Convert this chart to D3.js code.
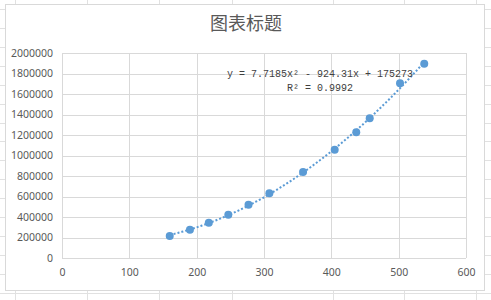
<!DOCTYPE html>
<html>
<head>
<meta charset="utf-8">
<script src="https://cdn.jsdelivr.net/npm/d3@7"></script>
<style>
  html, body { margin: 0; padding: 0; background: #fff; }
  svg { display: block; }
</style>
</head>
<body>
<script>

// data
const title = "图表标题"
const xValues = [160, 190, 218, 247, 277, 308, 358, 405, 437, 457, 502, 538]
const yValues = [215000, 276000, 344000, 422000, 520000, 631000, 839000, 1057000, 1226000, 1363000, 1704000, 1896000]
// trendline y = c0 + c1*x + c2*x^2, as printed on the chart
const trendCoef = [175273, -924.31, 7.7185]
const rSquared = 0.9992
const xTicks = [0, 100, 200, 300, 400, 500, 600]
const yTicks = [0, 200000, 400000, 600000, 800000, 1000000, 1200000, 1400000, 1600000, 1800000, 2000000]

// spreadsheet cells behind the chart
const sheetCols = [15, 87, 159, 232, 333, 404, 476]
const sheetRows = [9, 28, 47, 66, 85, 104, 123, 141, 160, 179, 198, 217, 236, 255, 274, 293]

const W = 491, H = 300
const textColor = "#595959"
const gridColor = "#d9d9d9"
const blue = "#5b9bd5"

const svg = d3.select("body").append("svg")
    .attr("width", W)
    .attr("height", H)

/**
    faint sheet grid
*/
let sheet = svg.append("g").attr("stroke", "#e1e1e1").attr("stroke-width", 1)
sheet.selectAll("line.c").data(sheetCols).join("line").attr("class", "c")
    .attr("x1", d => d + .5).attr("x2", d => d + .5)
    .attr("y1", 0).attr("y2", H)
sheet.selectAll("line.r").data(sheetRows).join("line").attr("class", "r")
    .attr("x1", 0).attr("x2", W)
    .attr("y1", d => d + .5).attr("y2", d => d + .5)

// chart area
svg.append("rect")
    .attr("x", 5.5).attr("y", 4.5)
    .attr("width", 479).attr("height", 286)
    .attr("fill", "#fff")
    .attr("stroke", gridColor)

svg.append("text")
    .attr("x", 246).attr("y", 30)
    .attr("text-anchor", "middle")
    .attr("font-family", "'Noto Sans CJK SC', sans-serif")
    .attr("font-size", 18)
    .attr("fill", textColor)
    .text(title)

const x = d3.scaleLinear().domain([0, 600]).range([62, 466])
const y = d3.scaleLinear().domain([0, 2000000]).range([258, 53])

/**
    gridlines
*/
let grid = svg.append("g").attr("stroke", gridColor).attr("stroke-width", 1)
grid.selectAll("line.h").data(yTicks).join("line").attr("class", "h")
    .attr("x1", x(0)).attr("x2", x(600))
    .attr("y1", d => Math.round(y(d)) + .5).attr("y2", d => Math.round(y(d)) + .5)
grid.selectAll("line.v").data(xTicks).join("line").attr("class", "v")
    .attr("y1", y(0)).attr("y2", y(2000000))
    .attr("x1", d => Math.round(x(d)) + .5).attr("x2", d => Math.round(x(d)) + .5)

// axes, labels only
let yAxis = svg.append("g")
    .attr("transform", `translate(${x(0)},0)`)
    .call(d3.axisLeft(y).tickValues(yTicks).tickSize(0).tickPadding(9).tickFormat(d3.format("d")))
let xAxis = svg.append("g")
    .attr("transform", `translate(0,${y(0)})`)
    .call(d3.axisBottom(x).tickValues(xTicks).tickSize(0).tickPadding(11).tickFormat(d3.format("d")))

;[yAxis, xAxis].forEach(a => {
    a.select(".domain").remove()
    a.selectAll("text")
        .attr("fill", textColor)
        .attr("font-family", "'Noto Sans', sans-serif")
        .attr("font-size", 10.5)
})

/**
    trendline from the printed coefficients
*/
const poly = v => trendCoef.reduce((s, c, i) => s + c * Math.pow(v, i), 0)
const xMin = d3.min(xValues), xMax = d3.max(xValues)
const trendPts = d3.range(xMin, xMax + 0.1, 2).map(v => [v, poly(v)])

svg.append("path")
    .datum(trendPts)
    .attr("d", d3.line().x(d => x(d[0])).y(d => y(d[1])))
    .attr("fill", "none")
    .attr("stroke", blue)
    .attr("stroke-width", 2)
    .attr("stroke-dasharray", "2,2")

svg.append("g").selectAll("circle")
    .data(xValues.map((v, i) => [v, yValues[i]]))
    .join("circle")
    .attr("cx", d => x(d[0]))
    .attr("cy", d => y(d[1]))
    .attr("r", 4)
    .attr("fill", blue)

/**
    equation label
*/
const fmtTerm = (c, i) => {
    let s = c < 0 ? " - " : " + "
    let body = Math.abs(c) + (i == 2 ? "x²" : i == 1 ? "x" : "")
    return [s, body]
}
let eq = "y = " + trendCoef[2] + "x²"
    + fmtTerm(trendCoef[1], 1).join("")
    + fmtTerm(trendCoef[0], 0).join("")

let label = svg.append("text")
    .attr("text-anchor", "middle")
    .attr("font-family", "'Liberation Mono', monospace")
    .attr("font-size", 10)
    .attr("fill", "#404040")
label.append("tspan").attr("x", 320).attr("y", 76.5).text(eq)
label.append("tspan").attr("x", 320).attr("y", 90.5).text("R² = " + rSquared)

</script>
</body>
</html>
